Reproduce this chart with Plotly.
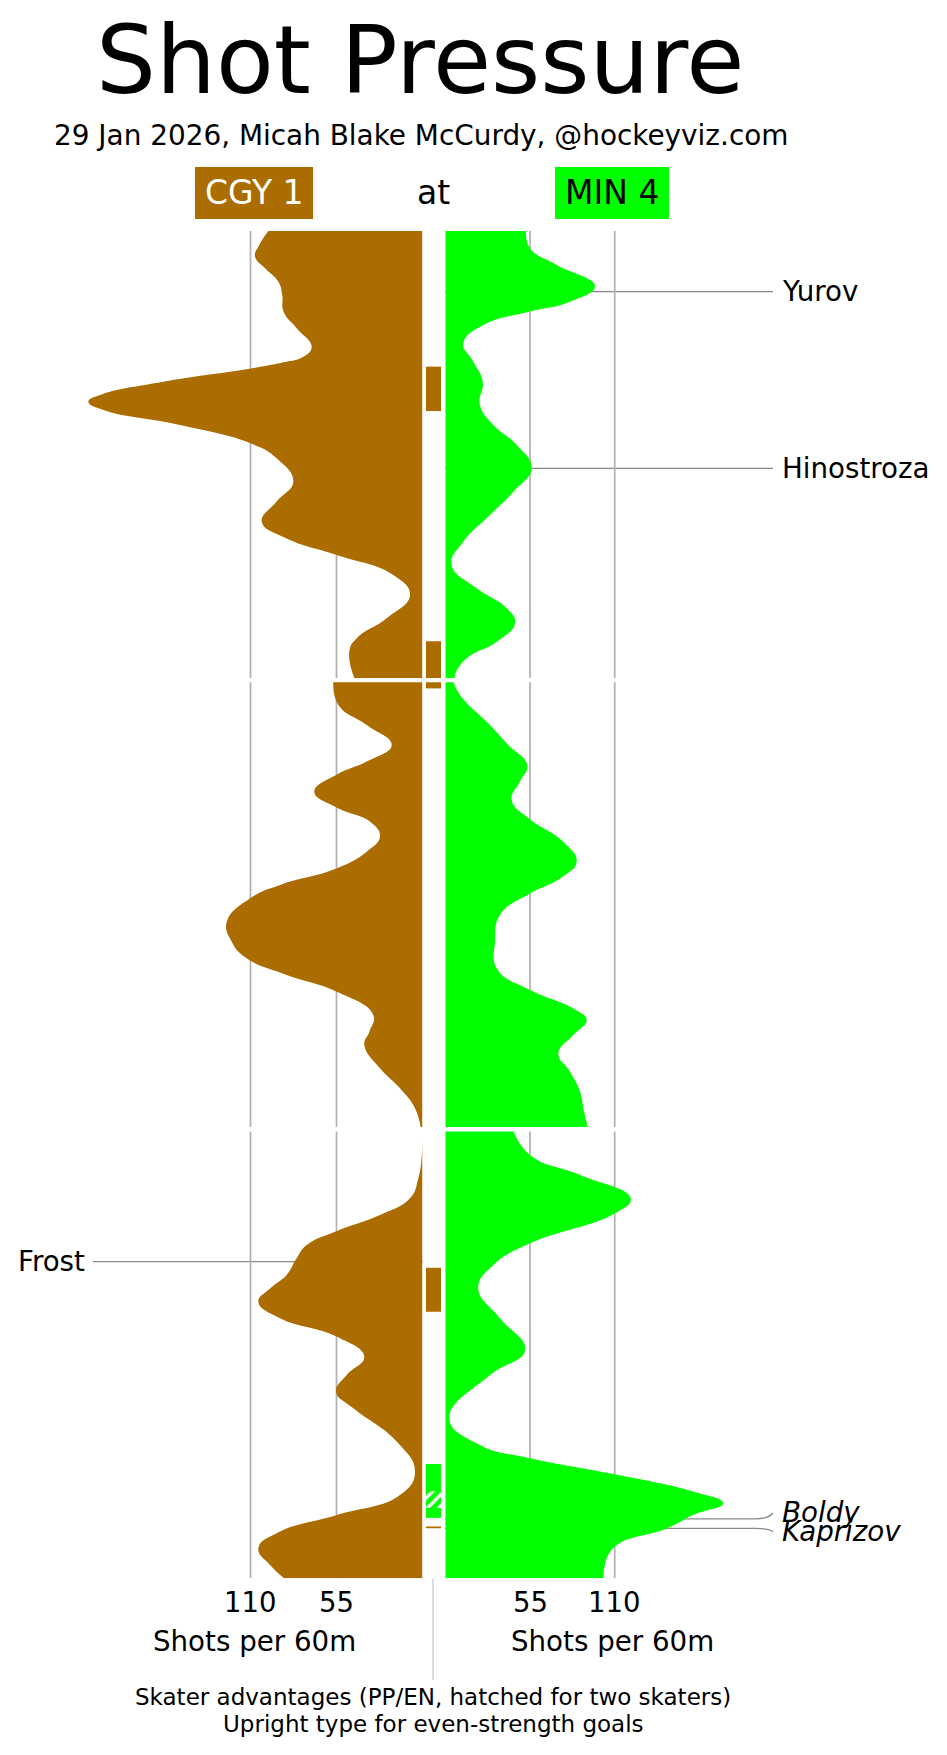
import plotly.graph_objects as go

# ---------------- data ----------------
title_text = "Shot Pressure"
subtitle_text = "29 Jan 2026, Micah Blake McCurdy, @hockeyviz.com"
team_names = ["CGY", "MIN"]
team_scores = [1, 4]
team_colors = ["#ab6c00", "#00ff00"]
team_text_colors = ["white", "black"]
axis_title = "Shots per 60m"
tick_values = [55, 110]
tick_labels = ["55", "110"]
footer_lines = ["Skater advantages (PP/EN, hatched for two skaters)",
                "Upright type for even-strength goals"]
period_breaks = [20, 40]

# CGY shot rate (shots per 60m) by game minute, one array per period
cgy_p1_t = [0, 0.62, 1.14, 1.66, 2.26, 2.85, 3.59, 4.33, 5.15, 5.60, 5.85, 6.12, 6.71, 7.30, 7.60,
            7.97, 8.64, 9.46, 10.12, 11.16, 12.05, 12.95, 13.69, 14.43, 15.32, 16.21, 17.25,
            18.14, 18.73, 20]
cgy_p1_v = [98.6, 104.4, 107.1, 100.7, 92.2, 89.7, 88.9, 80.5, 70.9, 76.2, 89.0, 109.7, 165.8, 206.3,
            213.7, 204.1, 155.1, 109.7, 93.3, 82.6, 93.3, 102.8, 86.9, 54.7, 18.7, 8.0, 22.9,
            42.1, 46.8, 43.2]
cgy_p2_t = [20, 21.11, 22.0, 22.89, 23.63, 24.2, 24.97, 25.68, 26.3, 26.97, 27.64, 28.38, 29.12,
            29.69, 30.76, 31.65, 32.39, 33.13, 33.88, 34.91, 35.66, 36.25, 37.29, 38.18, 39.07, 40]
cgy_p2_v = [57.0, 53.8, 35.7, 19.7, 35.7, 54.7, 69.2, 54.7, 33.6, 27.2, 35.7, 54.7, 91.1,
            109.7, 125.2, 122.0, 112.4, 86.9, 54.7, 31.5, 34.0, 37.2, 27.2, 14.4, 4.8, 1.0]
cgy_p3_t = [40, 41.3, 42.19, 43.08, 43.82, 44.53, 45.16, 45.75, 46.49, 47.09, 47.68, 48.42, 49.24,
            50.13, 50.95, 51.69, 52.43, 53.91, 55.25, 56.29, 57.18, 57.92, 58.66, 59.41, 60]
cgy_p3_v = [0, 0.6, 2.7, 8.0, 27.2, 54.7, 74.1, 80.5, 86.9, 97.5, 105.0, 91.1, 54.7,
            37.2, 48.5, 55.3, 44.2, 16.5, 4.8, 14.4, 54.7, 91.1, 105.0, 97.5, 88.6]

# MIN shot rate
min_p1_t = [0, 0.77, 1.51, 2.45, 3.15, 3.59, 4.19, 5.0, 5.82, 6.71, 7.75, 8.64, 9.53, 10.57,
            11.61, 12.65, 13.84, 14.87, 15.91, 16.8, 17.47, 18.29, 19.03, 19.77, 20]
min_p1_v = [52.4, 55.0, 72.3, 97.2, 81.0, 55.0, 24.7, 11.7, 18.2, 24.3, 22.5, 31.2, 46.4, 56.1,
            44.2, 29.0, 11.7, 4.1, 20.4, 39.9, 45.3, 33.4, 13.9, 6.3, 6.3]
min_p2_t = [20, 20.66, 22.0, 22.89, 23.78, 24.52, 25.34, 26.2, 27.2, 28.09, 28.83, 29.5, 30.46,
            31.65, 32.84, 33.8, 34.62, 35.14, 35.8, 36.62, 37.44, 38.33, 39.2, 40]
min_p2_v = [4.8, 9.5, 29.0, 40.9, 53.2, 48.5, 43.1, 55.0, 76.6, 85.3, 74.5, 55.0, 35.5,
            32.3, 33.4, 55.0, 83.1, 91.8, 83.1, 73.4, 81.0, 87.5, 90.0, 92.9]
min_p3_t = [40, 41.15, 42.04, 43.08, 43.75, 45.08, 46.05, 47.08, 48.42, 49.83, 50.95, 52.87,
            54.06, 54.65, 55.37, 56.14, 56.66, 57.18, 57.78, 58.6, 59.62, 60]
min_p3_v = [43.8, 55.0, 87.5, 120.4, 110.0, 55.0, 31.2, 21.4, 35.5, 51.8, 29.0, 2.6,
            22.5, 55.0, 110.0, 161.0, 180.5, 161.0, 143.8, 110.0, 103.0, 103.0]

# skater advantages (minutes)
pp_team = ["CGY", "CGY", "CGY", "MIN", "MIN", "CGY"]
pp_start = [6.04, 18.27, 46.17, 54.91, 56.13, 57.69]
pp_end = [8.02, 20.37, 48.13, 57.31, 56.87, 57.77]
pp_two_skaters = [False, False, False, False, True, False]

# goals
goal_team = ["MIN", "MIN", "CGY", "MIN", "MIN"]
goal_player = ["Yurov", "Hinostroza", "Frost", "Boldy", "Kaprizov"]
goal_time = [2.70, 10.57, 45.90, 57.35, 57.78]
goal_even = [True, True, True, False, False]

# ---------------- layout geometry (pixels) ----------------
W, H = 947, 1755
PLOT_TOP, PLOT_BOT = 231.0, 1578.3
L_ZERO, L_PX = 422.5, 1.5636
R_ZERO, R_PX = 445.3, 1.54
PP_X0, PP_X1 = 426.0, 441.0
FONT = "DejaVu Sans"
SMOOTH = 1.3
label_shift = {"Boldy": -0.26, "Kaprizov": 0.14}


def px(x):
    return x / W


def py(y):
    return 1 - y / H


fig = go.Figure()

cgy_t = [cgy_p1_t, cgy_p2_t, cgy_p3_t]
cgy_v = [cgy_p1_v, cgy_p2_v, cgy_p3_v]
min_t = [min_p1_t, min_p2_t, min_p3_t]
min_v = [min_p1_v, min_p2_v, min_p3_v]

for t, v in zip(cgy_t, cgy_v):
    fig.add_trace(go.Scatter(x=v, y=t, xaxis="x", yaxis="y", mode="lines",
                             line=dict(width=0, shape="spline", smoothing=SMOOTH, color=team_colors[0]),
                             fill="tozerox", fillcolor=team_colors[0], hoverinfo="skip",
                             showlegend=False))
for t, v in zip(min_t, min_v):
    fig.add_trace(go.Scatter(x=v, y=t, xaxis="x2", yaxis="y", mode="lines",
                             line=dict(width=0, shape="spline", smoothing=SMOOTH, color=team_colors[1]),
                             fill="tozerox", fillcolor=team_colors[1], hoverinfo="skip",
                             showlegend=False))

for team, s, e, two in zip(pp_team, pp_start, pp_end, pp_two_skaters):
    col = team_colors[team_names.index(team)]
    kw = {}
    if two:
        kw["fillpattern"] = dict(shape="/", fgcolor="white", bgcolor=col, size=8,
                                 solidity=0.4, fgopacity=1, fillmode="replace")
    fig.add_trace(go.Scatter(x=[0, 1, 1, 0, 0], y=[s, s, e, e, s], xaxis="x3", yaxis="y",
                             mode="lines", line=dict(width=0, color=col), fill="toself",
                             fillcolor=col, hoverinfo="skip", showlegend=False, **kw))

shapes = []
# grid lines
for axis in ["x", "x2"]:
    for tv in tick_values:
        shapes.append(dict(type="line", xref=axis, yref="y", x0=tv, x1=tv, y0=0, y1=60,
                           line=dict(color="#b0b0b0", width=1.7), layer="below"))
# period separators
for b in period_breaks:
    shapes.append(dict(type="line", xref="paper", yref="y", x0=px(60), x1=px(760), y0=b, y1=b,
                       line=dict(color="white", width=4.4), layer="above"))
# center line under the plot
shapes.append(dict(type="line", xref="paper", yref="paper", x0=px(433), x1=px(433),
                   y0=py(PLOT_BOT), y1=py(1680), line=dict(color="#d9d9d9", width=1.7)))
# team boxes
box_x = [(195, 313), (555, 669)]
for (bx0, bx1), col in zip(box_x, team_colors):
    shapes.append(dict(type="rect", xref="paper", yref="paper", x0=px(bx0), x1=px(bx1),
                       y0=py(219), y1=py(167), fillcolor=col, line=dict(width=0)))

annotations = []
# goal connectors and labels
for team, name, t, even in zip(goal_team, goal_player, goal_time, goal_even):
    lt = t + label_shift.get(name, 0)
    label = name if even else "<i>" + name + "</i>"
    if team == "MIN":
        path = "M {},{} L {},{} Q {},{} {},{}".format(px(R_ZERO), t, px(756), t, px(768), t, px(773), lt)
        annotations.append(dict(x=px(780), y=lt, xref="paper", yref="y", text=label,
                                xanchor="left", yanchor="middle", showarrow=False,
                                font=dict(family=FONT, size=27.7, color="black")))
    else:
        path = "M {},{} L {},{} Q {},{} {},{}".format(px(L_ZERO), t, px(110), t, px(98), t, px(93), lt)
        annotations.append(dict(x=px(87), y=lt, xref="paper", yref="y", text=label,
                                xanchor="right", yanchor="middle", showarrow=False,
                                font=dict(family=FONT, size=27.7, color="black")))
    shapes.append(dict(type="path", xref="paper", yref="y", path=path,
                       line=dict(color="#8a8a8a", width=1.3), layer="below"))

# header
annotations.append(dict(x=px(420), y=py(60), xref="paper", yref="paper", text=title_text,
                        showarrow=False, xanchor="center", yanchor="middle",
                        font=dict(family=FONT, size=94.5, color="black")))
annotations.append(dict(x=px(421), y=py(136), xref="paper", yref="paper", text=subtitle_text,
                        showarrow=False, xanchor="center", yanchor="middle",
                        font=dict(family=FONT, size=27.9, color="black")))
for (bx0, bx1), name, score, tc in zip(box_x, team_names, team_scores, team_text_colors):
    annotations.append(dict(x=px((bx0 + bx1) / 2), y=py(193), xref="paper", yref="paper",
                            text="{} {}".format(name, score), showarrow=False,
                            xanchor="center", yanchor="middle",
                            font=dict(family=FONT, size=33, color=tc)))
annotations.append(dict(x=px(433), y=py(193), xref="paper", yref="paper", text="at",
                        showarrow=False, xanchor="center", yanchor="middle",
                        font=dict(family=FONT, size=33, color="black")))

# tick labels and axis titles
for axis in ["x", "x2"]:
    for tv, tl in zip(tick_values, tick_labels):
        annotations.append(dict(x=tv, y=py(1602), xref=axis, yref="paper", text=tl,
                                showarrow=False, xanchor="center", yanchor="middle",
                                font=dict(family=FONT, size=27.5, color="black")))
for (bx0, bx1) in box_x:
    annotations.append(dict(x=px((bx0 + bx1) / 2), y=py(1641), xref="paper", yref="paper",
                            text=axis_title, showarrow=False, xanchor="center",
                            yanchor="middle", font=dict(family=FONT, size=27.7, color="black")))
for i, line in enumerate(footer_lines):
    annotations.append(dict(x=px(433), y=py(1697 + 26.6 * i), xref="paper", yref="paper",
                            text=line, showarrow=False, xanchor="center", yanchor="middle",
                            font=dict(family=FONT, size=23, color="black")))

fig.update_layout(
    width=W, height=H, autosize=False,
    margin=dict(l=0, r=0, t=0, b=0, pad=0),
    paper_bgcolor="white", plot_bgcolor="rgba(0,0,0,0)",
    showlegend=False,
    xaxis=dict(domain=[0, px(L_ZERO)], range=[L_ZERO / L_PX, 0], visible=False,
               fixedrange=True, anchor="y"),
    xaxis2=dict(domain=[px(R_ZERO), 1], range=[0, (W - R_ZERO) / R_PX], visible=False,
                fixedrange=True, anchor="y"),
    xaxis3=dict(domain=[px(PP_X0), px(PP_X1)], range=[0, 1], visible=False,
                fixedrange=True, anchor="y"),
    yaxis=dict(domain=[py(PLOT_BOT), py(PLOT_TOP)], range=[60, 0], visible=False,
               fixedrange=True, anchor="x"),
    shapes=shapes,
    annotations=annotations,
    font=dict(family=FONT),
)

fig.write_html("out.html", config={"displayModeBar": False},
               post_script="document.body.style.margin='0';")
